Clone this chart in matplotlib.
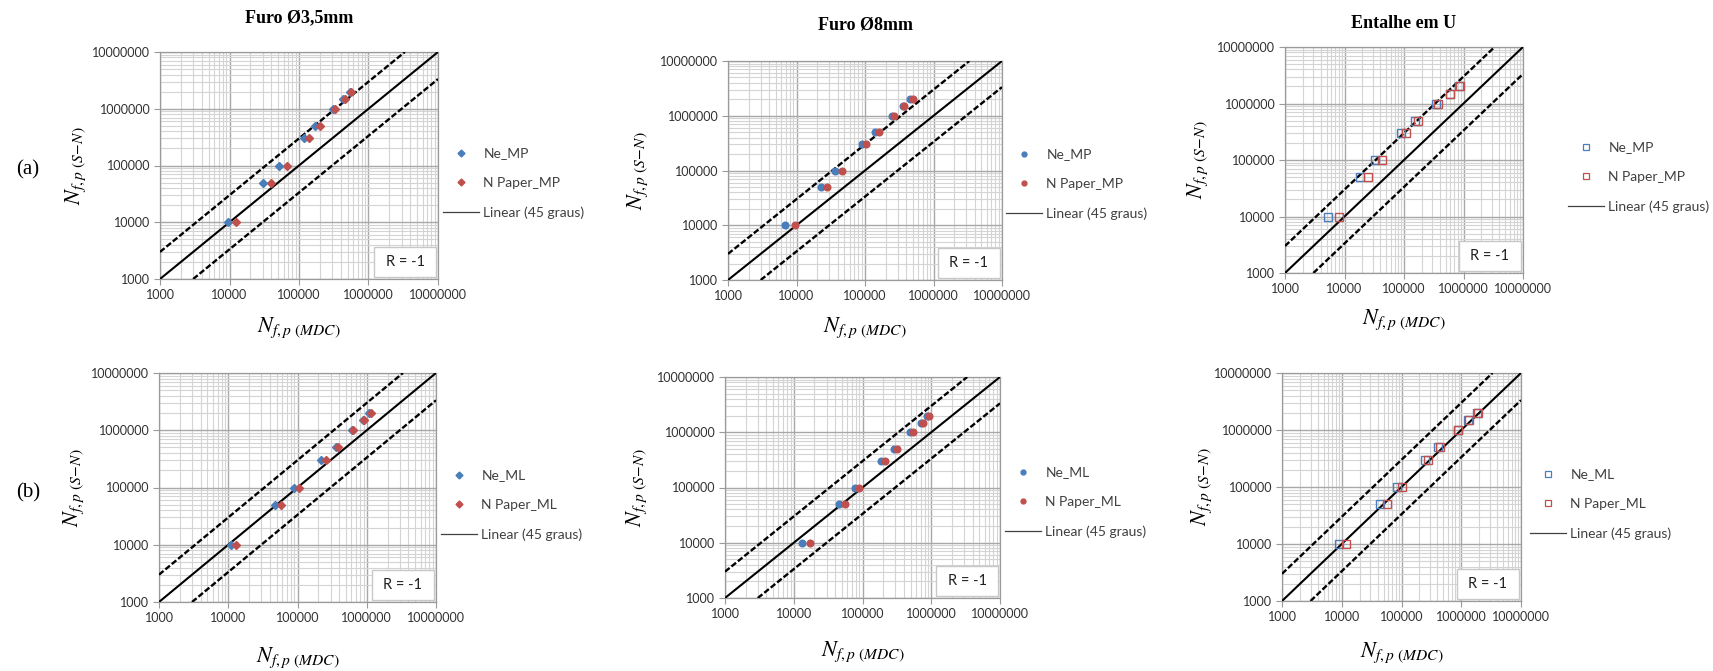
import matplotlib
matplotlib.use("Agg")
import matplotlib.pyplot as plt
from matplotlib.patches import Rectangle
from matplotlib.lines import Line2D
from matplotlib.ticker import LogLocator, FixedLocator, FixedFormatter, NullFormatter

plt.rcParams['mathtext.fontset'] = 'stix'

# ---------------- data ----------------
titles = ["Furo Ø3,5mm", "Furo Ø8mm", "Entalhe em U"]
row_labels = ["(a)", "(b)"]
tick_values = [1000, 10000, 100000, 1000000, 10000000]
tick_labels = ["1000", "10000", "100000", "1000000", "10000000"]

n_sn = [10000, 50000, 100000, 300000, 500000, 1000000, 1500000, 2000000]

a1_ne = [9400, 30500, 52000, 117000, 169000, 311000, 431000, 538000]
a1_np = [12200, 39000, 67600, 138000, 199000, 327000, 455000, 568000]
a2_ne = [6900, 22600, 36600, 89500, 140000, 244000, 362000, 452000]
a2_np = [9350, 28000, 45700, 103000, 160000, 267000, 374000, 494000]
a3_ne = [5360, 18300, 32300, 89600, 156000, 339000, 583000, 826000]
a3_np = [8100, 24900, 42400, 109000, 175000, 371000, 598000, 859000]
b1_ne = [10900, 48100, 88500, 222000, 354000, 604000, 890000, 1090000]
b1_np = [13100, 58700, 104500, 254000, 383000, 638000, 920000, 1150000]
b2_ne = [13300, 46000, 77800, 186000, 284000, 491000, 702000, 880000]
b2_np = [17200, 55600, 90000, 212000, 314000, 549000, 750000, 938000]
b3_ne = [9020, 44500, 82500, 246000, 412000, 868000, 1320000, 1830000]
b3_np = [12000, 56100, 101000, 280000, 439000, 891000, 1360000, 1880000]

line45_x = [1000, 10000000]
line45_y = [1000, 10000000]
upper_x = [1000, 3333333]
upper_y = [3000, 10000000]
lower_x = [3000, 10000000]
lower_y = [1000, 3333333]

labels_mp = ["Ne_MP", "N Paper_MP", "Linear (45 graus)"]
labels_ml = ["Ne_ML", "N Paper_ML", "Linear (45 graus)"]
r_text = "R = -1"

# ---------------- layout ----------------
W, H = 1713, 671
fig = plt.figure(figsize=(W / 100, H / 100), dpi=100)
fig.patch.set_facecolor("white")

BLUE = "#4a7ebb"
RED = "#c0504d"

panels = [
    dict(box=(160, 438, 52, 279), ne=a1_ne, np=a1_np, mk="D", ms=3.8, lab=labels_mp,
         leg=(443, 183), ylx=76, xly=328, title=titles[0], ty=18),
    dict(box=(728, 1002, 61, 280), ne=a2_ne, np=a2_np, mk="o", ms=4.8, lab=labels_mp,
         leg=(1006, 184), ylx=638, xly=328, title=titles[1], ty=25),
    dict(box=(1285, 1523, 47, 273), ne=a3_ne, np=a3_np, mk="s", ms=5.5, lab=labels_mp,
         leg=(1568, 177), ylx=1198, xly=320, title=titles[2], ty=23),
    dict(box=(159, 436, 373, 602), ne=b1_ne, np=b1_np, mk="D", ms=3.8, lab=labels_ml,
         leg=(441, 505), ylx=74, xly=658, title=None, ty=None),
    dict(box=(725, 1000, 377, 598), ne=b2_ne, np=b2_np, mk="o", ms=4.8, lab=labels_ml,
         leg=(1005, 502), ylx=637, xly=652, title=None, ty=None),
    dict(box=(1282, 1521, 373, 601), ne=b3_ne, np=b3_np, mk="s", ms=5.5, lab=labels_ml,
         leg=(1530, 504), ylx=1202, xly=653, title=None, ty=None),
]


def fx(x):
    return x / W


def fy(y):
    return 1 - y / H


for p in panels:
    x0, x1, y0, y1 = p["box"]
    ax = fig.add_axes([fx(x0), fy(y1), (x1 - x0) / W, (y1 - y0) / H])
    ax.set_xscale("log")
    ax.set_yscale("log")
    ax.set_xlim(1000, 10000000)
    ax.set_ylim(1000, 10000000)

    ax.xaxis.set_major_locator(FixedLocator(tick_values))
    ax.yaxis.set_major_locator(FixedLocator(tick_values))
    ax.xaxis.set_major_formatter(FixedFormatter(tick_labels))
    ax.yaxis.set_major_formatter(FixedFormatter(tick_labels))
    ax.xaxis.set_minor_locator(LogLocator(base=10, subs=range(2, 10), numticks=20))
    ax.yaxis.set_minor_locator(LogLocator(base=10, subs=range(2, 10), numticks=20))
    ax.xaxis.set_minor_formatter(NullFormatter())
    ax.yaxis.set_minor_formatter(NullFormatter())

    ax.grid(which="major", color="#a8a8a8", linewidth=1.0)
    ax.grid(which="minor", color="#d4d4d4", linewidth=0.8)
    ax.set_axisbelow(True)
    for s in ax.spines.values():
        s.set_color("#9a9a9a")
        s.set_linewidth(0.9)
    ax.tick_params(which="major", length=4, color="#9a9a9a", labelsize=9, pad=3)
    ax.tick_params(which="minor", length=0)
    for lbl in ax.get_xticklabels() + ax.get_yticklabels():
        lbl.set_fontfamily("Lato")
        lbl.set_color("#303030")

    # reference lines
    ax.plot(line45_x, line45_y, color="black", linewidth=1.5, zorder=3)
    ax.plot(upper_x, upper_y, color="black", linewidth=1.7, linestyle=(0, (2.5, 1)), zorder=3)
    ax.plot(lower_x, lower_y, color="black", linewidth=1.7, linestyle=(0, (2.5, 1)), zorder=3)

    # data
    if p["mk"] == "s":
        ax.plot(p["ne"], n_sn, linestyle="none", marker="s", markersize=p["ms"],
                markerfacecolor="none", markeredgecolor=BLUE, markeredgewidth=1.0, zorder=4)
        ax.plot(p["np"], n_sn, linestyle="none", marker="s", markersize=p["ms"],
                markerfacecolor="none", markeredgecolor=RED, markeredgewidth=1.0, zorder=4)
        h1 = Line2D([], [], linestyle="none", marker="s", markersize=4.5,
                    markerfacecolor="none", markeredgecolor=BLUE, markeredgewidth=0.9)
        h2 = Line2D([], [], linestyle="none", marker="s", markersize=4.5,
                    markerfacecolor="none", markeredgecolor=RED, markeredgewidth=0.9)
    else:
        ax.plot(p["ne"], n_sn, linestyle="none", marker=p["mk"], markersize=p["ms"],
                color=BLUE, zorder=4)
        ax.plot(p["np"], n_sn, linestyle="none", marker=p["mk"], markersize=p["ms"],
                color=RED, zorder=4)
        h1 = Line2D([], [], linestyle="none", marker=p["mk"], markersize=3.5, color=BLUE)
        h2 = Line2D([], [], linestyle="none", marker=p["mk"], markersize=3.5, color=RED)
    h3 = Line2D([], [], color="#404040", linewidth=0.9)

    # R box
    bw, bh = 62, 30
    wx = bw / (x1 - x0)
    hy = bh / (y1 - y0)
    ix = 2 / (x1 - x0)
    iy = 2 / (y1 - y0)
    rect = Rectangle((1 - ix - wx, iy), wx, hy, transform=ax.transAxes,
                     facecolor="white", edgecolor="#c8c8c8", linewidth=1.0, zorder=5)
    ax.add_patch(rect)
    ax.text(1 - ix - wx / 2, iy + hy / 2, r_text, transform=ax.transAxes,
            ha="center", va="center", fontsize=10.5, family="Lato", color="#202020", zorder=6)

    # legend
    lx, ly = p["leg"]
    fig.legend([h1, h2, h3], p["lab"], loc="center left",
               bbox_to_anchor=(fx(lx), fy(ly)), frameon=False,
               prop={"family": "Lato", "size": 10}, handlelength=2.6,
               handletextpad=0.3, labelspacing=1.25, borderpad=0, borderaxespad=0,
               labelcolor="#404040")

    # axis labels
    fig.text(fx(p["ylx"]), fy((y0 + y1) / 2), r"$N_{f,p\ (S\!-\!N)}$", rotation=90,
             ha="center", va="center", fontsize=16)
    fig.text(fx((x0 + x1) / 2), fy(p["xly"]), r"$N_{f,p\ (MDC)}$",
             ha="center", va="center", fontsize=16)

    if p["title"]:
        fig.text(fx((x0 + x1) / 2), fy(p["ty"]), p["title"], ha="center", va="center",
                 fontsize=13, fontweight="bold", family="Liberation Serif")

fig.text(fx(28), fy(170), row_labels[0], ha="center", va="center", fontsize=15,
         family="Liberation Serif")
fig.text(fx(28), fy(493), row_labels[1], ha="center", va="center", fontsize=15,
         family="Liberation Serif")

fig.savefig("out.png", dpi=100, facecolor="white")
